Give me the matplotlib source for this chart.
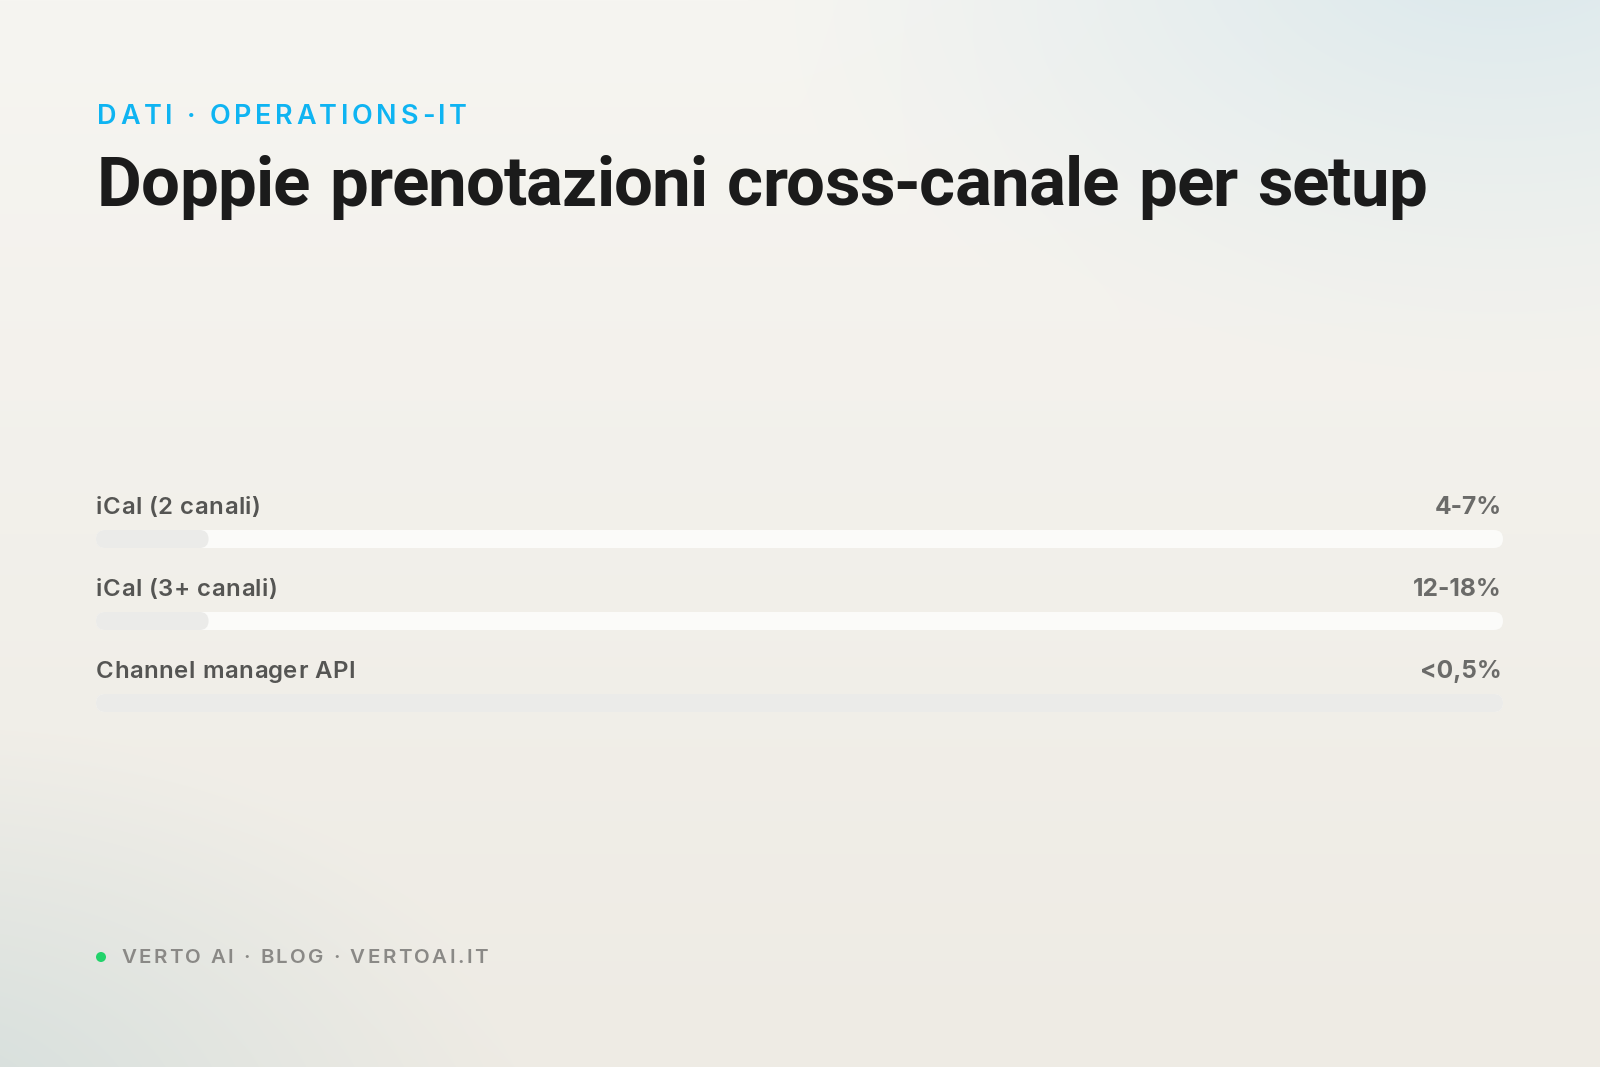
import numpy as np
import matplotlib
matplotlib.use("Agg")
import matplotlib.pyplot as plt
from matplotlib.font_manager import FontProperties
from matplotlib.patches import FancyBboxPatch, Circle

# ---- data ----
kicker = "DATI · OPERATIONS-IT"
title = "Doppie prenotazioni cross-canale per setup"
setups = ["iCal (2 canali)", "iCal (3+ canali)", "Channel manager API"]
value_labels = ["4-7%", "12-18%", "<0,5%"]
fill_pct = [8, 8, 100]          # bar fill (% of track)
footer = "VERTO AI · BLOG · VERTOAI.IT"

W, H = 1600, 1067
PT = 0.72  # px -> pt at dpi 100


def hexrgb(h):
    h = h.lstrip("#")
    return np.array([int(h[i:i + 2], 16) for i in (0, 2, 4)]) / 255.0


def background():
    yy, xx = np.mgrid[0:H, 0:W].astype(float)
    t = (yy / H)[..., None]
    img = hexrgb("#f6f5f1") * (1 - t) + hexrgb("#eeebe4") * t
    # bluish haze top right
    d = np.sqrt(((xx - 1500) / 760) ** 2 + ((yy + 60) / 440) ** 2)
    wgt = np.clip(1 - d, 0, 1) ** 1.2
    img = img * (1 - wgt[..., None]) + hexrgb("#dae8ec") * wgt[..., None]
    # grey-green haze bottom left
    d = np.sqrt(((xx + 80) / 600) ** 2 + ((yy - 1120) / 400) ** 2)
    wgt = np.clip(1 - d, 0, 1) ** 1.1
    img = img * (1 - wgt[..., None]) + hexrgb("#d4dedc") * wgt[..., None]
    return np.clip(img, 0, 1)


fig = plt.figure(figsize=(W / 100, H / 100), dpi=100)
bg = fig.add_axes([0, 0, 1, 1])
bg.imshow(background(), extent=(0, W, H, 0), aspect="auto", interpolation="bilinear")
bg.set_xlim(0, W)
bg.set_ylim(H, 0)
bg.axis("off")

renderer = fig.canvas.get_renderer()


def ink_w(s, fp):
    w, _, _ = renderer.get_text_width_height_descent(s, fp, ismath=False)
    return w


def tracked(x, y, s, fp, color, track=0.0, width=None, word=0.0, ha="left"):
    # draw text char by char so letter spacing can be set
    pos = {i: ink_w(s[:i + 1], fp) - ink_w(ch, fp)
           for i, ch in enumerate(s) if ch != " "}
    natural = ink_w(s, fp) + word * s.count(" ")
    if width is not None:
        track = (width - natural) / (len(s) - 1)
    total = natural + track * (len(s) - 1)
    x0 = x - total if ha == "right" else x
    extra = 0.0
    for i, ch in enumerate(s):
        if ch == " ":
            extra += word
            continue
        bg.text(x0 + pos[i] + i * track + extra, y, ch, fontproperties=fp,
                color=color, va="baseline", ha="left")


fp_kicker = FontProperties(family="Inter", weight="semibold", size=27 * PT)
fp_title = FontProperties(family="Roboto", weight="bold", size=69 * PT)
fp_label = FontProperties(family="Inter", weight="semibold", size=24 * PT)
fp_value = FontProperties(family="Inter", weight="bold", size=24.5 * PT)
fp_footer = FontProperties(family="Inter", weight="semibold", size=20.5 * PT)

tracked(97, 124, kicker, fp_kicker, "#0fb4f2", width=370)
tracked(97, 206, title, fp_title, "#1b1b1b", width=1330, word=4)

# ---- bars ----
bar_left, bar_right = 96, 1503
rows_y = [539, 621, 703]
bar_h = 18
ax = fig.add_axes([bar_left / W, 1 - 720 / H, (bar_right - bar_left) / W, 200 / H])
ax.set_xlim(0, 100)
ax.set_ylim(720, 520)
ax.axis("off")
px_per_x = (bar_right - bar_left) / 100.0
r = (bar_h / 2) / px_per_x

for i, (lab, val, pct) in enumerate(zip(setups, value_labels, fill_pct)):
    yc = rows_y[i]
    ax.add_patch(FancyBboxPatch((0, yc - bar_h / 2), 100, bar_h,
                                boxstyle=f"round,pad=0,rounding_size={r}",
                                mutation_aspect=px_per_x, lw=0, fc="#fbfbf9"))
    ax.add_patch(FancyBboxPatch((0, yc - bar_h / 2), pct, bar_h,
                                boxstyle=f"round,pad=0,rounding_size={r}",
                                mutation_aspect=px_per_x, lw=0, fc="#ebebe9"))
    base = yc - 25
    tracked(96, base, lab, fp_label, "#555553", track=0.5)
    bg.text(1502, base, val, fontproperties=fp_value, color="#6b6b69",
            va="baseline", ha="right")

# ---- footer ----
bg.add_patch(Circle((101, 957), 5, color="#22d36b", lw=0))
tracked(121, 963, footer, fp_footer, "#8a8986", width=367)

fig.savefig("out.png", dpi=100)
